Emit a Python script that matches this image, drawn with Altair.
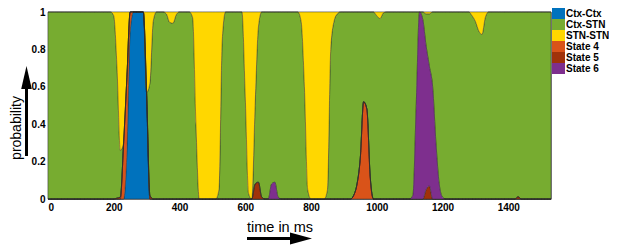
import altair as alt
import pandas as pd

# time grid (ms), one value every 10 ms
time_ms = list(range(0, 1540, 10))

series_names = ["Ctx-Ctx", "Ctx-STN", "STN-STN", "State 4", "State 5", "State 6"]
series_colors = ["#0072BD", "#77AC30", "#FFD700", "#D95319", "#A0320A", "#7E2F8E"]
# stacking position, bottom -> top
stack_rank = {"Ctx-Ctx": 0, "State 4": 1, "State 5": 2, "State 6": 3, "Ctx-STN": 4, "STN-STN": 5}

ctx_ctx = [
    0, 0, 0, 0, 0, 0, 0, 0, 0, 0,
    0, 0, 0, 0, 0, 0, 0, 0, 0, 0,
    0, 0, 0, 0, 0.25, 0.9, 1, 1, 1, 1,
    0.55, 0, 0, 0, 0, 0, 0, 0, 0, 0,
    0, 0, 0, 0, 0, 0, 0, 0, 0, 0,
    0, 0, 0, 0, 0, 0, 0, 0, 0, 0,
    0, 0, 0, 0, 0, 0, 0, 0, 0, 0,
    0, 0, 0, 0, 0, 0, 0, 0, 0, 0,
    0, 0, 0, 0, 0, 0, 0, 0, 0, 0,
    0, 0, 0, 0, 0, 0, 0, 0, 0, 0,
    0, 0, 0, 0, 0, 0, 0, 0, 0, 0,
    0, 0, 0, 0, 0, 0, 0, 0, 0, 0,
    0, 0, 0, 0, 0, 0, 0, 0, 0, 0,
    0, 0, 0, 0, 0, 0, 0, 0, 0, 0,
    0, 0, 0, 0, 0, 0, 0, 0, 0, 0,
    0, 0, 0, 0,
]

ctx_stn = [
    1, 1, 1, 1, 1, 1, 1, 1, 1, 1,
    1, 1, 1, 1, 1, 1, 1, 1, 1, 1,
    0.98, 0.695, 0.25, 0, 0, 0, 0, 0, 0, 0,
    0, 0.6, 0.95, 1, 1, 1, 0.99, 0.945, 0.94, 0.985,
    1, 1, 1, 1, 0.97, 0.4, 0, 0, 0, 0,
    0, 0, 0.05, 0.85, 1, 1, 1, 1, 1, 1,
    0.55, 0.03, 0, 0.42, 0.83, 0.99, 1, 1, 0.92, 0.91,
    0.99, 1, 1, 1, 1, 1, 1, 0.95, 0.6, 0.05,
    0, 0, 0, 0, 0, 0.05, 0.8, 0.95, 0.99, 1,
    1, 1, 1, 0.98, 0.92, 0.78, 0.48, 0.52, 0.88, 1,
    0.98, 0.965, 0.995, 1, 1, 1, 1, 1, 1, 1,
    1, 0.98, 0.5, 0, 0.04, 0.17, 0.28, 0.4, 0.7, 0.92,
    0.99, 1, 1, 1, 1, 1, 1, 1, 1, 0.98,
    0.95, 0.9, 0.88, 0.97, 1, 1, 1, 1, 1, 1,
    1, 1, 1, 0.988, 1, 1, 1, 1, 1, 1,
    1, 1, 1, 1,
]

stn_stn = [
    0, 0, 0, 0, 0, 0, 0, 0, 0, 0,
    0, 0, 0, 0, 0, 0, 0, 0, 0, 0,
    0.02, 0.3, 0.74, 0.7, 0.35, 0, 0, 0, 0, 0,
    0.43, 0.38, 0.05, 0, 0, 0, 0.01, 0.055, 0.06, 0.015,
    0, 0, 0, 0, 0.03, 0.6, 1, 1, 1, 1,
    1, 1, 0.95, 0.15, 0, 0, 0, 0, 0, 0,
    0.45, 0.97, 1, 0.5, 0.08, 0, 0, 0, 0, 0,
    0, 0, 0, 0, 0, 0, 0, 0.05, 0.4, 0.95,
    1, 1, 1, 1, 1, 0.95, 0.2, 0.05, 0.01, 0,
    0, 0, 0, 0, 0, 0, 0, 0, 0, 0,
    0.02, 0.035, 0.005, 0, 0, 0, 0, 0, 0, 0,
    0, 0, 0, 0, 0, 0.01, 0.01, 0, 0, 0,
    0, 0, 0, 0, 0, 0, 0, 0, 0, 0.02,
    0.05, 0.1, 0.12, 0.03, 0, 0, 0, 0, 0, 0,
    0, 0, 0, 0, 0, 0, 0, 0, 0, 0,
    0, 0, 0, 0,
]

state_4 = [
    0, 0, 0, 0, 0, 0, 0, 0, 0, 0,
    0, 0, 0, 0, 0, 0, 0, 0, 0, 0,
    0, 0, 0, 0.3, 0.4, 0.1, 0, 0, 0, 0,
    0, 0, 0, 0, 0, 0, 0, 0, 0, 0,
    0, 0, 0, 0, 0, 0, 0, 0, 0, 0,
    0, 0, 0, 0, 0, 0, 0, 0, 0, 0,
    0, 0, 0, 0, 0, 0, 0, 0, 0, 0,
    0, 0, 0, 0, 0, 0, 0, 0, 0, 0,
    0, 0, 0, 0, 0, 0, 0, 0, 0, 0,
    0, 0, 0, 0.02, 0.08, 0.22, 0.52, 0.48, 0.12, 0,
    0, 0, 0, 0, 0, 0, 0, 0, 0, 0,
    0, 0, 0, 0, 0, 0, 0, 0, 0, 0,
    0, 0, 0, 0, 0, 0, 0, 0, 0, 0,
    0, 0, 0, 0, 0, 0, 0, 0, 0, 0,
    0, 0, 0, 0, 0, 0, 0, 0, 0, 0,
    0, 0, 0, 0,
]

state_5 = [
    0, 0, 0, 0, 0, 0, 0, 0, 0, 0,
    0, 0, 0, 0, 0, 0, 0, 0, 0, 0,
    0, 0.005, 0.01, 0, 0, 0, 0, 0, 0, 0,
    0.02, 0.02, 0, 0, 0, 0, 0, 0, 0, 0,
    0, 0, 0, 0, 0, 0, 0, 0, 0, 0,
    0, 0, 0, 0, 0, 0, 0, 0, 0, 0,
    0, 0, 0, 0.08, 0.09, 0.01, 0, 0, 0, 0,
    0, 0, 0, 0, 0, 0, 0, 0, 0, 0,
    0, 0, 0, 0, 0, 0, 0, 0, 0, 0,
    0, 0, 0, 0, 0, 0, 0, 0, 0, 0,
    0, 0, 0, 0, 0, 0, 0, 0, 0, 0,
    0, 0, 0, 0, 0, 0.05, 0.07, 0, 0, 0,
    0, 0, 0, 0, 0, 0, 0, 0, 0, 0,
    0, 0, 0, 0, 0, 0, 0, 0, 0, 0,
    0, 0, 0, 0.012, 0, 0, 0, 0, 0, 0,
    0, 0, 0, 0,
]

state_6 = [
    0, 0, 0, 0, 0, 0, 0, 0, 0, 0,
    0, 0, 0, 0, 0, 0, 0, 0, 0, 0,
    0, 0, 0, 0, 0, 0, 0, 0, 0, 0,
    0, 0, 0, 0, 0, 0, 0, 0, 0, 0,
    0, 0, 0, 0, 0, 0, 0, 0, 0, 0,
    0, 0, 0, 0, 0, 0, 0, 0, 0, 0,
    0, 0, 0, 0, 0, 0, 0, 0, 0.08, 0.09,
    0.01, 0, 0, 0, 0, 0, 0, 0, 0, 0,
    0, 0, 0, 0, 0, 0, 0, 0, 0, 0,
    0, 0, 0, 0, 0, 0, 0, 0, 0, 0,
    0, 0, 0, 0, 0, 0, 0, 0, 0, 0,
    0, 0.02, 0.5, 1, 0.96, 0.77, 0.64, 0.6, 0.3, 0.08,
    0.01, 0, 0, 0, 0, 0, 0, 0, 0, 0,
    0, 0, 0, 0, 0, 0, 0, 0, 0, 0,
    0, 0, 0, 0, 0, 0, 0, 0, 0, 0,
    0, 0, 0, 0,
]

x_ticks = [0, 200, 400, 600, 800, 1000, 1200, 1400]
y_ticks = [0, 0.2, 0.4, 0.6, 0.8, 1]

series_values = {
    "Ctx-Ctx": ctx_ctx,
    "Ctx-STN": ctx_stn,
    "STN-STN": stn_stn,
    "State 4": state_4,
    "State 5": state_5,
    "State 6": state_6,
}

rows = []
for name, vals in series_values.items():
    for t, v in zip(time_ms, vals):
        rows.append({"t": t, "p": v, "state": name, "rank": stack_rank[name]})
df = pd.DataFrame(rows)

FONT = "Liberation Sans"

area = alt.Chart(df).mark_area(
    interpolate="monotone", stroke="#2a2a2a", strokeWidth=0.5, strokeOpacity=0.85
).encode(
    x=alt.X("t:Q", scale=alt.Scale(domain=[0, 1530], nice=False, zero=False),
            axis=alt.Axis(values=x_ticks, format="d", title=None, labelPadding=3)),
    y=alt.Y("p:Q", stack="zero", scale=alt.Scale(domain=[0, 1], nice=False),
            axis=alt.Axis(values=y_ticks, format="~g", title=None, labelPadding=3)),
    color=alt.Color("state:N",
                    scale=alt.Scale(domain=series_names, range=series_colors),
                    legend=alt.Legend(
                        orient="none", legendX=505, legendY=-4, title=None,
                        labelFont=FONT, labelFontWeight="bold", labelFontSize=10,
                        labelColor="black",
                        symbolType="M-1.18,-1L1.18,-1L1.18,1L-1.18,1Z",
                        symbolSize=121, symbolStrokeWidth=0, symbolOpacity=1,
                        rowPadding=0, labelOffset=2, padding=0)),
    order=alt.Order("rank:Q", sort="ascending"),
)

one = pd.DataFrame({"k": [0]})

y_title = alt.Chart(one).mark_text(
    text="probability", angle=270, font=FONT, fontSize=14, align="center",
    baseline="middle", color="black"
).encode(x=alt.value(-31.5), y=alt.value(116))

x_title = alt.Chart(one).mark_text(
    text="time in ms", font=FONT, fontSize=14.5, align="center",
    baseline="alphabetic", color="black"
).encode(x=alt.value(232), y=alt.value(220))

up_shaft = alt.Chart(one).mark_rule(color="black", strokeWidth=3).encode(
    x=alt.value(-21.5), y=alt.value(77), y2=alt.value(144))
up_head = alt.Chart(one).mark_point(
    shape="M0,-1L0.46,1L-0.46,1Z", filled=True, color="black", opacity=1, size=529
).encode(x=alt.value(-21.5), y=alt.value(65.5))

right_shaft = alt.Chart(one).mark_rule(color="black", strokeWidth=3).encode(
    x=alt.value(199), x2=alt.value(244), y=alt.value(226.5))
right_head = alt.Chart(one).mark_point(
    shape="M1,0L-1,-0.55L-1,0.55Z", filled=True, color="black", opacity=1, size=484
).encode(x=alt.value(253), y=alt.value(226.5))

chart = alt.layer(
    area, y_title, x_title, up_shaft, up_head, right_shaft, right_head
).properties(
    width=503, height=187,
    padding={"left": 40, "top": 4, "right": 58, "bottom": 46},
    autosize=alt.AutoSizeParams(type="none"),
    background="white",
).configure_view(
    stroke="#404040", strokeWidth=0.8
).configure_axis(
    labelFont=FONT, labelFontWeight="bold", labelFontSize=10, labelColor="black",
    ticks=False, domain=False, grid=False
)

chart.save("out.html", embed_options={"renderer": "svg", "actions": False})
